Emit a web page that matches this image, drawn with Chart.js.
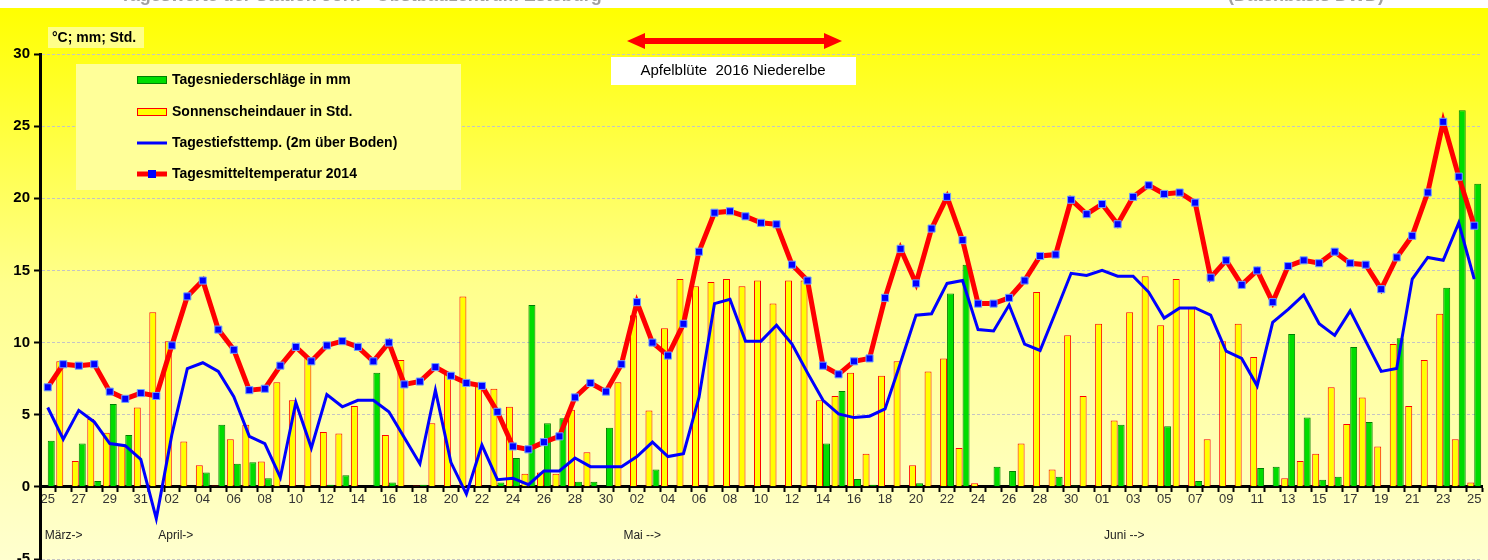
<!DOCTYPE html>
<html lang="de">
<head>
<meta charset="utf-8">
<title>Tageswerte Frühjahr</title>
<script src="https://cdn.jsdelivr.net/npm/chart.js@4.4.1/dist/chart.umd.min.js"></script>
<style>
  html, body { margin: 0; padding: 0; background: #fff; overflow: hidden; }
  #wetter-chart { display: block; }
</style>
</head>
<body>
<!-- etwas höher als das Fenster, damit -5 genau am unteren Rand liegt -->
<canvas id="wetter-chart" width="1488" height="565"></canvas>
<script>
// Tage vom 25. März bis 25. Juni
const tage = [
    '25','26','27','28','29','30','31',
    '01','02','03','04','05','06','07','08','09','10','11','12','13','14','15',
    '16','17','18','19','20','21','22','23','24','25','26','27','28','29','30',
    '01','02','03','04','05','06','07','08','09','10','11','12','13','14','15',
    '16','17','18','19','20','21','22','23','24','25','26','27','28','29','30','31',
    '01','02','03','04','05','06','07','08','09','10','11','12','13','14','15',
    '16','17','18','19','20','21','22','23','24','25'
];

// Monatsbeschriftung unter der Achse (Index des ersten Tages)
const monate = ['März->', 'April->', 'Mai -->', 'Juni -->'];
const monatsStart = [0, 7, 37, 68];

// Tagesniederschläge in mm
const niederschlag = [
    3.2, 0, 3.0, 0.4, 5.75, 3.6, 0, 0, 0, 0,
    1.0, 4.3, 1.6, 1.7, 0.6, 0, 0, 0, 0.15, 0.8,
    0, 7.9, 0.3, 0, 0.15, 0, 0, 0, 0, 0.3,
    2.0, 12.6, 4.4, 4.75, 0.35, 0.35, 4.1, 0, 0, 1.2,
    0, 0, 0, 0, 0, 0, 0, 0, 0, 0,
    3.0, 6.65, 0.55, 0.15, 0, 0, 0.25, 0, 13.4, 15.4,
    0, 1.4, 1.1, 0, 0, 0.7, 0.1, 0, 0, 4.3,
    0, 0, 4.2, 0, 0.4, 0, 0, 0, 1.3, 1.4,
    10.6, 4.8, 0.5, 0.7, 9.7, 4.5, 0, 10.3, 0.05, 0.05,
    13.8, 26.1, 21.0
];

// Sonnenscheindauer in Std.
const sonne = [
    0, 8.7, 1.8, 4.7, 3.75, 2.9, 5.5, 12.1, 10.1, 3.15,
    1.5, 0.1, 3.3, 4.3, 1.75, 7.25, 6.0, 8.95, 3.8, 3.7,
    5.6, 0, 3.6, 8.8, 0.1, 4.4, 7.9, 13.2, 7.0, 6.8,
    5.55, 0.9, 1.0, 0.9, 5.35, 2.4, 0, 7.25, 11.9, 5.3,
    11.0, 14.4, 13.9, 14.2, 14.4, 13.9, 14.3, 12.7, 14.3, 14.3,
    6.0, 6.3, 7.9, 2.3, 7.7, 8.7, 1.5, 8.0, 8.9, 2.7,
    0.25, 0, 0, 3.0, 13.5, 1.2, 10.5, 6.3, 11.3, 4.6,
    12.1, 14.6, 11.2, 14.4, 12.4, 3.3, 10.1, 11.3, 9.0, 0,
    0.6, 1.8, 2.3, 6.9, 4.35, 6.2, 2.8, 9.9, 5.6, 8.8,
    12.0, 3.3, 0.3
];

// Tagestiefsttemperatur (2m über Boden)
const tiefstTemp = [
    5.5, 3.3, 5.3, 4.5, 3.0, 2.85, 1.9, -2.2, 3.6, 8.2,
    8.6, 8.0, 6.25, 3.5, 3.0, 0.65, 5.85, 2.7, 6.4, 5.55,
    6.0, 6.0, 5.2, 3.4, 1.6, 6.7, 1.7, -0.5, 2.9, 0.5,
    0.6, 0.15, 1.1, 1.1, 2.0, 1.4, 1.4, 1.4, 2.1, 3.1,
    2.1, 2.3, 6.2, 12.7, 13.0, 10.1, 10.1, 11.2, 9.9, 7.9,
    6.0, 5.05, 4.8, 4.9, 5.4, 8.6, 11.9, 12.0, 14.1, 14.3,
    10.9, 10.8, 12.6, 9.9, 9.45, 12.1, 14.8, 14.65, 15.0, 14.6,
    14.6, 13.5, 11.7, 12.4, 12.4, 11.9, 9.4, 8.9, 7.0, 11.4,
    12.3, 13.3, 11.3, 10.5, 12.2, 10.1, 8.0, 8.2, 14.4, 15.9,
    15.7, 18.3, 14.4
];

// Tagesmitteltemperatur
const mittelTemp = [
    6.9, 8.5, 8.4, 8.5, 6.6, 6.1, 6.5, 6.3, 9.8, 13.2,
    14.3, 10.9, 9.5, 6.7, 6.8, 8.4, 9.7, 8.7, 9.8, 10.1,
    9.7, 8.7, 10.0, 7.1, 7.3, 8.3, 7.7, 7.2, 7.0, 5.2,
    2.8, 2.6, 3.1, 3.5, 6.2, 7.2, 6.6, 8.5, 12.8, 10.0,
    9.1, 11.3, 16.3, 19.0, 19.1, 18.75, 18.3, 18.2, 15.4, 14.3,
    8.4, 7.8, 8.7, 8.9, 13.1, 16.5, 14.1, 17.9, 20.1, 17.1,
    12.7, 12.7, 13.1, 14.3, 16.0, 16.1, 19.9, 18.9, 19.6, 18.2,
    20.1, 20.9, 20.3, 20.4, 19.7, 14.5, 15.7, 14.0, 15.0, 12.8,
    15.3, 15.7, 15.5, 16.3, 15.5, 15.4, 13.7, 15.9, 17.4, 20.4,
    25.3, 21.5, 18.1
];

// Y-Achse
const yMin = -5;
const yMax = 30;
const yStep = 5;

const schrift = 'Arial, "Liberation Sans", sans-serif';

// Hintergrund mit Farbverlauf und angeschnittener Titelzeile
const hintergrundPlugin = {
    id: 'hintergrund',
    beforeDraw(chart) {
        const ctx = chart.ctx;
        const w = chart.width;
        const h = chart.height;
        ctx.save();
        ctx.fillStyle = '#ffffff';
        ctx.fillRect(0, 0, w, h);

        const verlauf = ctx.createLinearGradient(0, 8, 0, 560);
        verlauf.addColorStop(0, '#ffff00');
        verlauf.addColorStop(0.5, '#ffff8c');
        verlauf.addColorStop(1, '#ffffcf');
        ctx.fillStyle = verlauf;
        ctx.fillRect(0, 8, w, h - 8);

        // Titelzeile, nur der untere Rand ist sichtbar
        ctx.beginPath();
        ctx.rect(0, 0, w, 8);
        ctx.clip();
        ctx.fillStyle = '#a0a0a0';
        ctx.font = 'bold 18px ' + schrift;
        ctx.textBaseline = 'alphabetic';
        ctx.textAlign = 'left';
        ctx.fillText('Tageswerte der Station Jork - Obstbauzentrum Esteburg', 120, 1);
        ctx.fillText('(Datenbasis DWD)', 1228, 1);
        ctx.restore();
    }
};

// Legende, Einheiten, Apfelblüte-Pfeil und Monatsnamen
const beschriftungPlugin = {
    id: 'beschriftung',
    afterDraw(chart) {
        const ctx = chart.ctx;
        const xScale = chart.scales.x;
        ctx.save();

        // Einheiten oben links
        ctx.fillStyle = '#ffff8a';
        ctx.fillRect(48, 27, 96, 21);
        ctx.fillStyle = '#000';
        ctx.font = 'bold 14px ' + schrift;
        ctx.textAlign = 'left';
        ctx.textBaseline = 'middle';
        ctx.fillText('°C; mm; Std.', 52, 38);

        // Legendenkasten
        ctx.fillStyle = '#ffff99';
        ctx.fillRect(76, 64, 385, 126);

        const eintraege = chart.data.datasets.map(ds => ds.label);
        const zeilen = [80, 112, 143, 174];
        const sx = 137;
        const sw = 30;

        // Niederschlag
        ctx.fillStyle = '#00dd00';
        ctx.fillRect(sx, zeilen[0] - 4, sw, 8);
        ctx.strokeStyle = '#008000';
        ctx.lineWidth = 1;
        ctx.strokeRect(sx + 0.5, zeilen[0] - 3.5, sw - 1, 7);

        // Sonnenschein
        ctx.fillStyle = '#ffff00';
        ctx.fillRect(sx, zeilen[1] - 4, sw, 8);
        ctx.strokeStyle = '#ff0000';
        ctx.strokeRect(sx + 0.5, zeilen[1] - 3.5, sw - 1, 7);

        // Tiefsttemperatur
        ctx.strokeStyle = '#0000ff';
        ctx.lineWidth = 3;
        ctx.beginPath();
        ctx.moveTo(sx, zeilen[2]);
        ctx.lineTo(sx + sw, zeilen[2]);
        ctx.stroke();

        // Mitteltemperatur
        ctx.strokeStyle = '#ff0000';
        ctx.lineWidth = 5;
        ctx.beginPath();
        ctx.moveTo(sx, zeilen[3]);
        ctx.lineTo(sx + sw, zeilen[3]);
        ctx.stroke();
        ctx.fillStyle = '#0000ff';
        ctx.fillRect(sx + sw / 2 - 4, zeilen[3] - 4, 8, 8);

        ctx.fillStyle = '#000';
        ctx.font = 'bold 14px ' + schrift;
        zeilen.forEach((y, i) => ctx.fillText(eintraege[i], 172, y));

        // Pfeil Apfelblüte
        const pfeilY = 41;
        const links = 627;
        const rechts = 842;
        ctx.fillStyle = '#ff0000';
        ctx.fillRect(links + 14, pfeilY - 3, rechts - links - 28, 6);
        ctx.beginPath();
        ctx.moveTo(links, pfeilY);
        ctx.lineTo(links + 18, pfeilY - 8);
        ctx.lineTo(links + 18, pfeilY + 8);
        ctx.closePath();
        ctx.fill();
        ctx.beginPath();
        ctx.moveTo(rechts, pfeilY);
        ctx.lineTo(rechts - 18, pfeilY - 8);
        ctx.lineTo(rechts - 18, pfeilY + 8);
        ctx.closePath();
        ctx.fill();

        ctx.fillStyle = '#ffffff';
        ctx.fillRect(611, 57, 245, 28);
        ctx.fillStyle = '#000';
        ctx.font = '15px ' + schrift;
        ctx.textAlign = 'center';
        ctx.fillText('Apfelblüte  2016 Niederelbe', 733, 71);

        // Monatsnamen
        ctx.fillStyle = '#222';
        ctx.font = '12px ' + schrift;
        ctx.textAlign = 'left';
        monate.forEach((name, i) => {
            const x = xScale.getPixelForValue(monatsStart[i]) + (i === 0 ? -3 : 2);
            ctx.fillText(name, x, 536);
        });

        ctx.restore();
    }
};

function initWetterChart() {
    const ctx = document.getElementById('wetter-chart').getContext('2d');

    new Chart(ctx, {
        type: 'bar',
        data: {
            labels: tage,
            datasets: [
                {
                    label: 'Tagesniederschläge in mm',
                    data: niederschlag,
                    backgroundColor: '#00dd00',
                    borderColor: '#008000',
                    borderWidth: 1,
                    categoryPercentage: 0.9,
                    barPercentage: 1.0,
                    order: 3
                },
                {
                    label: 'Sonnenscheindauer in Std.',
                    data: sonne,
                    backgroundColor: '#ffff00',
                    borderColor: '#ff0000',
                    borderWidth: 1,
                    categoryPercentage: 0.9,
                    barPercentage: 1.0,
                    order: 2
                },
                {
                    type: 'line',
                    label: 'Tagestiefsttemp. (2m über Boden)',
                    data: tiefstTemp,
                    borderColor: '#0000ff',
                    borderWidth: 3,
                    pointRadius: 0,
                    tension: 0,
                    fill: false,
                    order: 1
                },
                {
                    type: 'line',
                    label: 'Tagesmitteltemperatur 2014',
                    data: mittelTemp,
                    borderColor: '#ff0000',
                    borderWidth: 5,
                    pointStyle: 'rect',
                    pointRadius: 5,
                    pointBackgroundColor: '#0000ff',
                    pointBorderColor: '#6fa0ff',
                    pointBorderWidth: 1,
                    tension: 0,
                    fill: false,
                    order: 0
                }
            ]
        },
        options: {
            responsive: false,
            animation: false,
            devicePixelRatio: 1,
            layout: {
                padding: { top: 54, bottom: 2, left: 0, right: 0 }
            },
            plugins: {
                legend: { display: false },
                tooltip: { enabled: false },
                title: { display: false }
            },
            scales: {
                x: {
                    type: 'category',
                    position: { y: 0 },
                    offset: true,
                    grid: {
                        display: true,
                        drawOnChartArea: false,
                        offset: true,
                        tickLength: 4,
                        tickColor: '#000',
                        tickWidth: 2
                    },
                    border: { color: '#000', width: 3 },
                    ticks: {
                        autoSkip: false,
                        maxRotation: 0,
                        minRotation: 0,
                        padding: 1,
                        color: '#333',
                        font: { family: schrift, size: 13 },
                        callback: (value, index) => index % 2 === 0 ? tage[index] : ''
                    }
                },
                y: {
                    min: yMin,
                    max: yMax,
                    afterFit: scale => {
                        scale.width = 40;
                        scale.paddingTop = 0;
                        scale.paddingBottom = 0;
                    },
                    grid: {
                        color: '#c4c4c4',
                        lineWidth: 1,
                        tickLength: 6,
                        tickColor: '#000',
                        tickWidth: 2,
                        tickBorderDash: []
                    },
                    border: { color: '#000', width: 3, dash: [3, 2] },
                    ticks: {
                        stepSize: yStep,
                        padding: 4,
                        color: '#000',
                        font: { family: schrift, size: 15, weight: 'bold' }
                    }
                }
            }
        },
        plugins: [hintergrundPlugin, beschriftungPlugin]
    });
}

document.addEventListener('DOMContentLoaded', initWetterChart);
</script>
</body>
</html>
